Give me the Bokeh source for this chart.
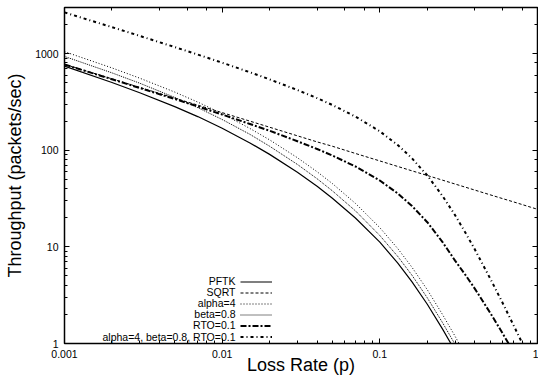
from bokeh.plotting import figure
from bokeh.models import (Range1d, LogAxis, LogTicker, CustomJSTickFormatter, Legend,
                          LegendItem, Label)
from bokeh.embed import file_html
from bokeh.resources import INLINE

# Loss rate grid (x values)
loss_rate = [0.001, 0.002, 0.003, 0.005, 0.007, 0.01, 0.015, 0.02, 0.03, 0.04, 0.05,
             0.07, 0.1, 0.13, 0.16, 0.2, 0.25, 0.3, 0.35, 0.4, 0.5, 0.6, 0.7, 0.8, 0.9, 1.0]

# Throughput (packets/sec)
pftk = [741, 503, 394, 283, 223, 169, 119, 90.6, 59.2, 42.3, 31.9, 19.9, 11.2, 6.78,
        4.34, 2.55, 1.41, 0.84]
sqrt_model = [775, 548, 447, 346, 293, 245, 200, 173, 141, 122, 110, 92.6, 77.5, 67.9,
              61.2, 54.8, 49.0, 44.7, 41.4, 38.7, 34.6, 31.6, 29.3, 27.4, 25.8, 24.5]
alpha4 = [1048, 711, 557, 400, 315, 239, 168, 128, 83.7, 59.9, 45.2, 28.2, 15.8, 9.59,
          6.14, 3.60, 1.99, 1.19, 0.75]
beta08 = [935, 632, 494, 352, 276, 208, 146, 110, 71.3, 50.7, 38.0, 23.6, 13.1, 7.95,
          5.08, 2.97, 1.64, 0.98, 0.61]
rto01 = [771, 543, 441, 339, 284, 234, 187, 159, 124, 103, 88.1, 67.9, 48.6, 35.7,
         26.5, 18.0, 11.2, 7.21, 5.09, 3.70, 2.09, 1.28, 0.83]
combined = [2669, 1877, 1525, 1168, 977, 805, 641, 541, 420, 346, 294, 223, 157, 113,
            82.5, 54.8, 33.6, 21.3, 13.9, 9.43, 4.74, 2.64, 1.58, 1.01, 0.68]

series_names = ["PFTK", "SQRT", "alpha=4", "beta=0.8", "RTO=0.1",
                "alpha=4, beta=0.8, RTO=0.1"]
x_range_limits = (0.001, 1)
y_range_limits = (1, 3000)

FONT = "Liberation Sans"

p = figure(width=538, height=377, x_axis_type="log", y_axis_type="log",
           x_range=Range1d(*x_range_limits), y_range=Range1d(*y_range_limits),
           output_backend="svg", toolbar_location=None,
           min_border_left=64, min_border_right=1, min_border_top=7, min_border_bottom=32)
p.grid.visible = False
p.outline_line_color = "black"
p.outline_line_width = 1.5
p.outline_line_alpha = 1.0
p.background_fill_color = "white"

fmt = CustomJSTickFormatter(code="return Number(tick.toPrecision(1)).toString();")

def style_axis(ax):
    ax.major_tick_in = 5
    ax.major_tick_out = 0
    ax.minor_tick_in = 3
    ax.minor_tick_out = 0
    ax.major_tick_line_color = "black"
    ax.minor_tick_line_color = "black"
    ax.axis_line_color = None

for ax in (p.xaxis[0], p.yaxis[0]):
    style_axis(ax)
    ax.formatter = fmt
    ax.major_label_text_font = FONT
    ax.major_label_text_font_size = "10.5px"
    ax.major_label_text_color = "black"
    ax.axis_label_text_font = FONT
    ax.axis_label_text_font_size = "18px"
    ax.axis_label_text_font_style = "normal"
    ax.axis_label_text_color = "black"

p.xaxis[0].axis_label = "Loss Rate (p)"
p.xaxis[0].major_label_standoff = 6
p.xaxis[0].axis_label_standoff = -6
p.yaxis[0].axis_label = "Throughput (packets/sec)"
p.yaxis[0].major_label_standoff = 6
p.yaxis[0].axis_label_standoff = 7

empty_fmt = CustomJSTickFormatter(code="return '';")
for side in ("above", "right"):
    ax = LogAxis(ticker=LogTicker(), formatter=empty_fmt,
                 major_label_text_font_size="0px", major_label_standoff=0)
    style_axis(ax)
    p.add_layout(ax, side)

r_pftk = p.line(loss_rate[:len(pftk)], pftk, line_color="black", line_width=1.2)
r_sqrt = p.line(loss_rate[:len(sqrt_model)], sqrt_model, line_color="black",
                line_width=1, line_dash="3 2")
r_alpha = p.line(loss_rate[:len(alpha4)], alpha4, line_color="black",
                 line_width=1, line_dash="1 2")
r_beta = p.line(loss_rate[:len(beta08)], beta08, line_color="black",
                line_width=1, line_dash="1 1")
r_rto = p.line(loss_rate[:len(rto01)], rto01, line_color="black",
               line_width=2, line_dash="6 2 2 2")
r_comb = p.line(loss_rate[:len(combined)], combined, line_color="black",
                line_width=2, line_dash="3 3 1 3")

renderers = [r_pftk, r_sqrt, r_alpha, r_beta, r_rto, r_comb]

# Legend samples (gnuplot style: text on the left, sample on the right)
legend = Legend(items=[LegendItem(label=" ", renderers=[r]) for r in renderers],
                location=(176, 1), margin=0, padding=0, spacing=0,
                glyph_width=32, glyph_height=11, label_height=11,
                label_standoff=0, label_width=1,
                label_text_font=FONT, label_text_font_size="7px",
                background_fill_alpha=0, border_line_alpha=0)
p.add_layout(legend)

row_h = 11.14
n = len(series_names)
for i, name in enumerate(series_names):
    p.add_layout(Label(x=171, y=7 + row_h * (n - 1 - i),
                       x_units="screen", y_units="screen", text=name,
                       text_align="right", text_baseline="middle",
                       text_font=FONT, text_font_size="10.5px", text_color="black"))

open("out.html", "w").write(file_html(p, INLINE))
